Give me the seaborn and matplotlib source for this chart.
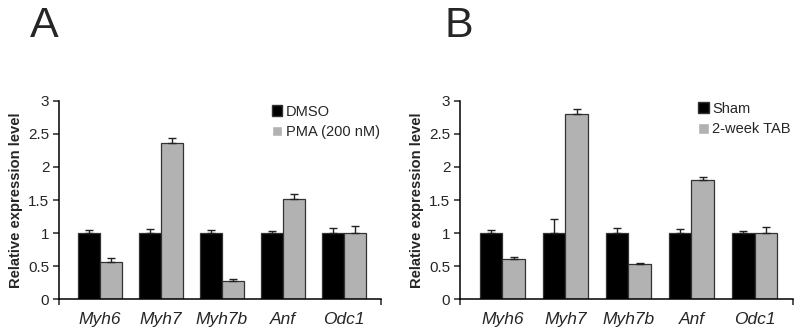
import matplotlib
matplotlib.use("Agg")
import matplotlib.pyplot as plt
import seaborn as sns
import numpy as np
import pandas as pd
from matplotlib.patches import Patch

sns.set_theme(style="ticks")
plt.rcParams['font.family'] = ['Liberation Sans', 'DejaVu Sans']

genes = ["Myh6", "Myh7", "Myh7b", "Anf", "Odc1"]

# Panel A
groups_a = ["DMSO", "PMA (200 nM)"]
dmso_mean = [1.0, 1.0, 1.0, 1.0, 1.0]
dmso_err = [0.045, 0.065, 0.04, 0.03, 0.08]
pma_mean = [0.56, 2.365, 0.275, 1.52, 1.0]
pma_err = [0.06, 0.065, 0.035, 0.075, 0.105]

# Panel B
groups_b = ["Sham", "2-week TAB"]
sham_mean = [1.0, 1.0, 1.0, 1.0, 1.0]
sham_err = [0.05, 0.21, 0.08, 0.06, 0.03]
tab_mean = [0.605, 2.80, 0.54, 1.795, 1.0]
tab_err = [0.035, 0.08, 0.015, 0.055, 0.085]

yticks = [0, 0.5, 1, 1.5, 2, 2.5, 3]
ytick_labels = ["0", "0.5", "1", "1.5", "2", "2.5", "3"]

colors = ["#000000", "#b2b2b2"]

fig = plt.figure(figsize=(8, 3.36), dpi=100)
ax_a = fig.add_axes([59/800, 1-299.3/336, 322/800, 198.6/336])
ax_b = fig.add_axes([460/800, 1-299.3/336, 333/800, 198.6/336])


def panel(ax, groups, m1, e1, m2, e2, leg_x, leg_y):
    df = pd.DataFrame({
        "gene": genes * 2,
        "group": [groups[0]] * len(genes) + [groups[1]] * len(genes),
        "value": list(m1) + list(m2),
    })
    sns.barplot(data=df, x="gene", y="value", hue="group", order=genes,
                hue_order=groups, palette=colors, width=0.72, errorbar=None,
                edgecolor="#333333", linewidth=0.9, ax=ax, legend=False,
                saturation=1)
    for cont, means, errs in zip(ax.containers, [m1, m2], [e1, e2]):
        xs = [p.get_x() + p.get_width() / 2 for p in cont.patches]
        ax.errorbar(xs, means, yerr=[np.zeros(len(errs)), errs], fmt="none",
                    ecolor="#222222", elinewidth=1.0, capsize=2.8,
                    capthick=1.0, zorder=1)
    ax.set_xlim(-0.67, 4.61)
    ax.set_ylim(0, 3)
    ax.set_yticks(yticks)
    ax.set_yticklabels(ytick_labels, fontsize=11)
    ax.set_xticks(range(len(genes)))
    ax.set_xticklabels(genes, fontsize=12.5, style="italic")
    ax.tick_params(axis="x", length=0, pad=9)
    ax.set_xticks([-0.67, 4.61], minor=True)
    ax.tick_params(axis="x", which="minor", length=4, width=1.1, direction="out")
    ax.tick_params(axis="y", length=4.5, width=1.1, pad=2.5)
    ax.set_xlabel("")
    ax.set_ylabel("Relative expression level", fontsize=10.6, fontweight="bold",
                  labelpad=4)
    for s in ["top", "right"]:
        ax.spines[s].set_visible(False)
    for s in ["left", "bottom"]:
        ax.spines[s].set_linewidth(1.1)
        ax.spines[s].set_color("black")
    handles = [Patch(facecolor=colors[0], edgecolor="#333333"),
               Patch(facecolor=colors[1], edgecolor="#ffffff")]
    ax.legend(handles, groups, loc="upper left", bbox_to_anchor=(leg_x, leg_y),
              frameon=False, fontsize=10.5, handlelength=0.75,
              handleheight=0.75, handletextpad=0.25, labelspacing=0.45,
              borderpad=0, borderaxespad=0)


panel(ax_a, groups_a, dmso_mean, dmso_err, pma_mean, pma_err, 0.66, 0.98)
panel(ax_b, groups_b, sham_mean, sham_err, tab_mean, tab_err, 0.714, 0.995)

fig.text(30/800, 1-6/336, "A", fontsize=31, va="top", ha="left")
fig.text(445/800, 1-6/336, "B", fontsize=31, va="top", ha="left")

fig.savefig("out.png", dpi=100)
